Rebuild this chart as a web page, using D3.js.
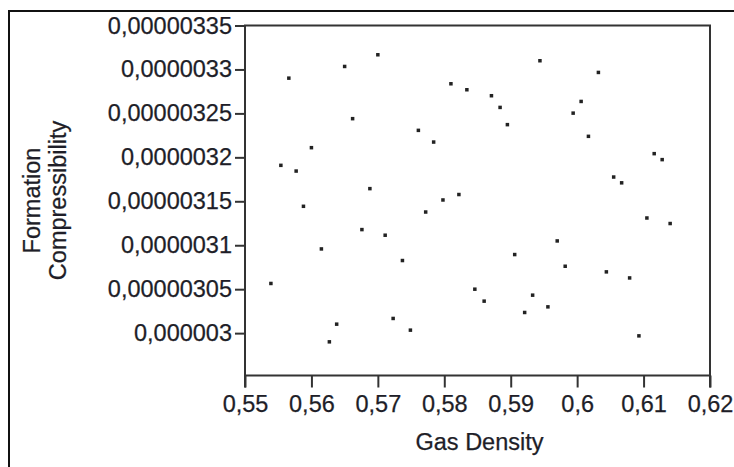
<!DOCTYPE html>
<html>
<head>
<meta charset="utf-8">
<script src="https://cdn.jsdelivr.net/npm/d3@7"></script>
<style>
  html, body { margin: 0; padding: 0; background: #fff; }
  svg { display: block; }
  text { font-family: "Liberation Sans", Arial, sans-serif; fill: #1e1e28; stroke: #1e1e28; stroke-width: 0.25px; }
</style>
</head>
<body>
<svg id="chart" width="734" height="467"></svg>
<script>
// Gas density (x) against formation compressibility (y), one point per sample
const gasDensity = [
  0.5566, 0.5650, 0.5700, 0.5810, 0.5834, 0.5871, 0.5662, 0.5761, 0.5784, 0.5600,
  0.5554, 0.5577, 0.5688, 0.5798, 0.5822, 0.5944, 0.6032, 0.5884, 0.5895, 0.6006,
  0.5994, 0.6017, 0.6116, 0.6128, 0.6055, 0.6067, 0.5588, 0.5772, 0.5676, 0.5711,
  0.5615, 0.5737, 0.5539, 0.5846, 0.5860, 0.5723, 0.5638, 0.5749, 0.5627, 0.6105,
  0.6140, 0.5970, 0.5906, 0.5982, 0.6044, 0.6079, 0.5933, 0.5956, 0.5921, 0.6093
];
const formationCompressibility = [
  3.2901e-6, 3.3034e-6, 3.3167e-6, 3.2837e-6, 3.2769e-6, 3.2701e-6, 3.2440e-6, 3.2307e-6, 3.2174e-6, 3.2110e-6,
  3.1909e-6, 3.1844e-6, 3.1644e-6, 3.1515e-6, 3.1577e-6, 3.3099e-6, 3.2966e-6, 3.2568e-6, 3.2372e-6, 3.2636e-6,
  3.2503e-6, 3.2239e-6, 3.2042e-6, 3.1974e-6, 3.1776e-6, 3.1710e-6, 3.1443e-6, 3.1378e-6, 3.1178e-6, 3.1114e-6,
  3.0958e-6, 3.0826e-6, 3.0565e-6, 3.0500e-6, 3.0364e-6, 3.0167e-6, 3.0102e-6, 3.0034e-6, 2.9901e-6, 3.1310e-6,
  3.1247e-6, 3.1049e-6, 3.0894e-6, 3.0761e-6, 3.0697e-6, 3.0628e-6, 3.0432e-6, 3.0299e-6, 3.0235e-6, 2.9969e-6
];

const xTicks = [0.55, 0.56, 0.57, 0.58, 0.59, 0.60, 0.61, 0.62];
const xTickLabels = ["0,55", "0,56", "0,57", "0,58", "0,59", "0,6", "0,61", "0,62"];
const yTicks = [3.35e-6, 3.30e-6, 3.25e-6, 3.20e-6, 3.15e-6, 3.10e-6, 3.05e-6, 3.00e-6];
const yTickLabels = ["0,00000335", "0,0000033", "0,00000325", "0,0000032",
                     "0,00000315", "0,0000031", "0,00000305", "0,000003"];

const xTitle = "Gas Density";
const yTitle = ["Formation", "Compressibility"];

const svg = d3.select("#chart");
const fontSize = 23.5;
const lineColor = "#333";

const x = d3.scaleLinear().domain([0.55, 0.62]).range([245, 710]);
const y = d3.scaleLinear().domain([2.9518e-6, 3.35e-6]).range([375.5, 25.5]);

// outer frame
svg.append("path")
  .attr("d", "M9,467 V11 H734")
  .attr("fill", "none")
  .attr("stroke", "#111")
  .attr("stroke-width", 2);

const [x0, x1] = x.range();
const [yb, yt] = y.range();

// plot box (axis lines extend a little past the corner, like the end ticks)
svg.append("path")
  .attr("d", `M${x0},${yb + 12} V${yt} H${x1} V${yb + 12} M${x0},${yb} H${x1}`)
  .attr("fill", "none")
  .attr("stroke", lineColor)
  .attr("stroke-width", 2);

// y axis ticks and labels
const yAxis = svg.append("g")
  .attr("transform", `translate(${x0},0)`)
  .call(d3.axisLeft(y)
    .tickValues(yTicks)
    .tickFormat((d, i) => yTickLabels[i])
    .tickSize(10)
    .tickPadding(3));
yAxis.select(".domain").remove();
yAxis.selectAll(".tick line").attr("stroke", lineColor).attr("stroke-width", 2);
yAxis.selectAll(".tick text")
  .attr("font-size", fontSize)
  .attr("font-family", "Liberation Sans, Arial, sans-serif")
  .attr("fill", "#1e1e28");

// x axis ticks and labels
const xAxis = svg.append("g")
  .attr("transform", `translate(0,${yb})`)
  .call(d3.axisBottom(x)
    .tickValues(xTicks)
    .tickFormat((d, i) => xTickLabels[i])
    .tickSize(12)
    .tickPadding(8));
xAxis.select(".domain").remove();
xAxis.selectAll(".tick line").attr("stroke", lineColor).attr("stroke-width", 2);
xAxis.selectAll(".tick text")
  .attr("font-size", fontSize)
  .attr("font-family", "Liberation Sans, Arial, sans-serif")
  .attr("fill", "#1e1e28");

// axis titles
svg.append("text")
  .attr("x", (x0 + x1) / 2 + 2)
  .attr("y", 449.5)
  .attr("text-anchor", "middle")
  .attr("font-size", fontSize)
  .text(xTitle);

const yMid = (yb + yt) / 2;
svg.append("g")
  .attr("transform", `translate(0,${yMid}) rotate(-90)`)
  .selectAll("text")
  .data(yTitle)
  .join("text")
  .attr("x", 0)
  .attr("y", (d, i) => 40 + i * 26)
  .attr("text-anchor", "middle")
  .attr("font-size", fontSize)
  .text(d => d);

// points
svg.append("g")
  .selectAll("rect")
  .data(gasDensity.map((g, i) => [g, formationCompressibility[i]]))
  .join("rect")
  .attr("x", d => x(d[0]) - 1.75)
  .attr("y", d => y(d[1]) - 1.75)
  .attr("width", 3.5)
  .attr("height", 3.5)
  .attr("fill", "#222");
</script>
</body>
</html>
